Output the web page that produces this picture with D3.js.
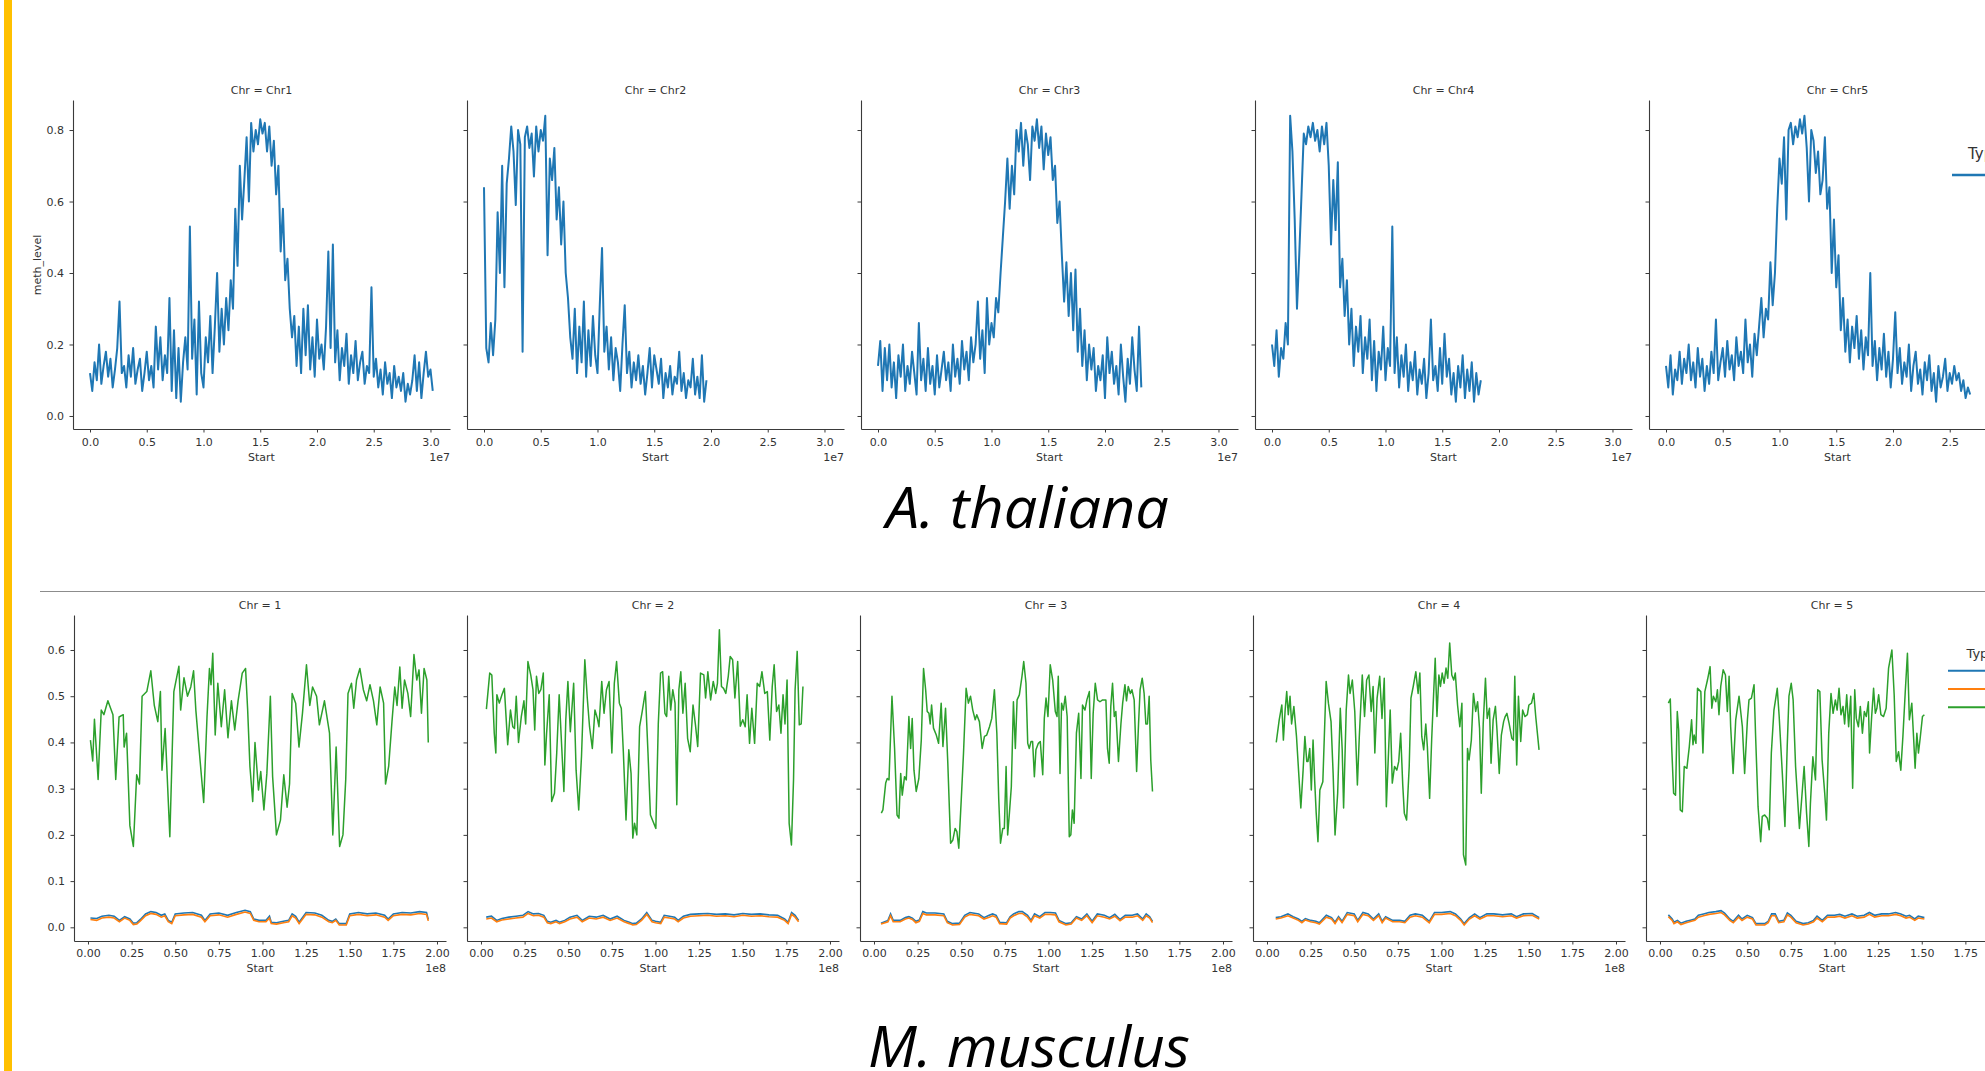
<!DOCTYPE html>
<html><head><meta charset="utf-8">
<script src="https://cdn.jsdelivr.net/npm/d3@7"></script>
<style>html,body{margin:0;padding:0;background:#fff;overflow:hidden}</style>
</head><body><svg id="c" width="1985" height="1071" xmlns="http://www.w3.org/2000/svg"></svg>
<script>
// ---------------- A. thaliana (bins of 200 kb starting at 0) ----------------
const thalStep = 200000;
const thalChrs = ["Chr1","Chr2","Chr3","Chr4","Chr5"];
const thalChr1 = [0.12,0.07,0.15,0.10,0.20,0.09,0.14,0.18,0.11,0.16,0.08,0.13,0.19,0.32,0.12,
0.14,0.08,0.17,0.11,0.19,0.09,0.13,0.16,0.07,0.12,0.18,0.10,0.14,
0.08,0.25,0.13,0.22,0.10,0.17,0.12,
0.33,0.07,0.24,0.05,0.19,0.04,0.15,0.22,0.13,0.53,0.16,0.27,0.06,0.32,0.12,0.08,0.22,0.15,0.28,0.12,0.25,0.40,0.18,0.30,0.20,0.33,0.24,0.38,0.30,0.58,0.42,0.70,0.55,0.66,0.78,0.60,0.82,0.74,0.80,0.76,0.83,0.79,0.82,0.74,0.81,0.70,0.77,0.62,0.70,0.46,0.58,0.38,0.44,0.30,0.22,0.28,0.14,0.25,0.12,0.30,0.17,0.31,0.13,0.22,0.11,0.27,0.16,0.20,0.13,0.25,0.46,0.19,0.48,0.15,0.24,0.10,0.19,0.14,0.23,0.09,0.17,0.12,0.21,0.10,0.15,0.18,0.09,0.14,0.12,0.36,0.11,0.16,0.08,0.13,0.06,0.15,0.09,0.12,0.05,0.14,0.08,0.11,0.07,0.12,0.04,0.09,0.06,0.10,0.17,0.07,0.15,0.05,0.12,0.18,0.11,0.13,0.07];
const thalChr2 = [0.64,0.19,0.15,0.26,0.17,0.27,0.57,0.40,0.70,0.36,0.65,0.72,0.81,0.74,0.59,0.80,0.76,0.18,0.78,0.81,0.75,0.79,0.67,0.81,0.74,0.80,0.77,0.84,0.45,0.72,0.66,0.75,0.55,0.64,0.48,0.60,0.40,0.33,0.22,0.16,0.30,0.12,0.25,0.15,0.32,0.11,0.24,0.14,0.28,0.17,0.12,0.31,0.47,0.18,0.25,0.13,0.22,0.10,0.19,0.15,0.07,0.20,0.31,0.12,0.18,0.08,0.15,0.10,0.17,0.09,0.14,0.06,0.12,0.19,0.08,0.17,0.13,0.09,0.16,0.05,0.12,0.08,0.14,0.06,0.11,0.09,0.18,0.07,0.12,0.05,0.10,0.08,0.16,0.06,0.11,0.05,0.17,0.04,0.10];
const thalChr3 = [0.14,0.21,0.07,0.19,0.10,0.20,0.08,0.15,0.05,0.17,0.11,0.20,0.07,0.14,0.09,0.18,0.12,0.06,0.26,0.10,0.16,0.07,0.19,0.09,0.14,0.06,0.17,0.08,0.13,0.18,0.10,0.15,0.07,0.20,0.11,0.16,0.09,0.21,0.13,0.18,0.10,0.22,0.15,0.20,0.32,0.16,0.24,0.12,0.33,0.20,0.26,0.22,0.33,0.29,0.40,0.50,0.60,0.72,0.58,0.70,0.62,0.80,0.74,0.82,0.70,0.80,0.76,0.66,0.81,0.77,0.83,0.75,0.81,0.69,0.79,0.73,0.78,0.66,0.70,0.54,0.60,0.45,0.32,0.43,0.28,0.40,0.24,0.41,0.18,0.30,0.14,0.24,0.10,0.20,0.13,0.19,0.07,0.14,0.10,0.17,0.05,0.22,0.12,0.18,0.09,0.14,0.06,0.20,0.11,0.04,0.16,0.09,0.22,0.13,0.07,0.25,0.08];
const thalChr4 = [0.20,0.14,0.24,0.11,0.19,0.16,0.26,0.20,0.84,0.74,0.55,0.30,0.45,0.62,0.79,0.76,0.81,0.78,0.82,0.77,0.80,0.74,0.81,0.76,0.82,0.70,0.48,0.66,0.52,0.71,0.36,0.44,0.28,0.38,0.20,0.30,0.14,0.25,0.18,0.28,0.12,0.22,0.16,0.27,0.10,0.21,0.07,0.18,0.13,0.25,0.10,0.19,0.14,0.53,0.12,0.22,0.08,0.17,0.11,0.20,0.07,0.15,0.10,0.18,0.06,0.13,0.09,0.16,0.05,0.12,0.27,0.10,0.14,0.07,0.19,0.09,0.23,0.11,0.16,0.06,0.12,0.04,0.14,0.08,0.17,0.05,0.13,0.07,0.15,0.04,0.12,0.06,0.10];
const thalChr5 = [0.14,0.08,0.17,0.06,0.13,0.10,0.18,0.09,0.16,0.12,0.20,0.10,0.15,0.08,0.19,0.11,0.16,0.07,0.14,0.09,0.18,0.12,0.27,0.10,0.15,0.19,0.11,0.21,0.13,0.17,0.10,0.22,0.14,0.18,0.12,0.27,0.15,0.20,0.11,0.23,0.17,0.25,0.33,0.22,0.30,0.27,0.43,0.31,0.40,0.58,0.72,0.65,0.78,0.55,0.80,0.82,0.76,0.81,0.78,0.83,0.79,0.84,0.75,0.60,0.80,0.77,0.68,0.74,0.62,0.66,0.78,0.58,0.64,0.40,0.55,0.36,0.45,0.24,0.33,0.18,0.27,0.15,0.25,0.19,0.28,0.16,0.24,0.13,0.22,0.17,0.40,0.14,0.21,0.10,0.19,0.13,0.23,0.11,0.18,0.08,0.16,0.29,0.12,0.19,0.09,0.15,0.11,0.20,0.07,0.14,0.18,0.09,0.13,0.06,0.15,0.10,0.17,0.07,0.12,0.04,0.14,0.08,0.11,0.16,0.07,0.12,0.09,0.14,0.10,0.12,0.07,0.10,0.05,0.08,0.06];
const thalValues = [thalChr1, thalChr2, thalChr3, thalChr4, thalChr5];
const thalXTicks = [0, 0.5e7, 1.0e7, 1.5e7, 2.0e7, 2.5e7, 3.0e7];
const thalYTicks = [0, 0.2, 0.4, 0.6, 0.8];

// ---------------- M. musculus (positions in Mb) ----------------
const musChrs = ["1","2","3","4","5"];
const musTypes = ["CHG","CHH","CG"];
// CG (green)
const musCGpos1 = [1.4,2.7,3.7,5.8,7.6,9.1,11.4,14.3,15.9,17.8,20.2,20.7,22.1,24,26,27.9,29.5,31,33.7,36,38,40,41.5,42.4,44.2,46.9,49.2,52.1,53.1,55,57,58.9,60.5,61.8,63.8,66.3,68.2,69.6,70.5,71.5,72.9,74.4,76.4,78.3,80.2,82.2,84.1,86,88.4,90.3,91.5,92.8,94.4,95.7,97.7,99,100.8,102.5,104.5,105.8,108,110.3,112.2,114.1,115.5,117,119,120.9,122.9,125.2,127.1,128.7,131,132.6,135.5,138.4,140.3,142.2,144.2,146.1,147.7,149,151,152.3,153.9,155.8,157.8,159.7,161.6,163.6,165.5,167.4,169.4,170.5,172.3,174.2,175.8,177.1,178.7,180,181.4,183.3,184.9,186.8,188.4,189.7,191.1,192.6,194.2,195];
const musCGval1 = [0.405,0.36,0.45,0.32,0.47,0.46,0.49,0.46,0.32,0.455,0.46,0.39,0.42,0.22,0.175,0.33,0.31,0.50,0.51,0.555,0.48,0.445,0.51,0.34,0.43,0.196,0.51,0.565,0.47,0.54,0.50,0.52,0.555,0.47,0.38,0.27,0.455,0.56,0.525,0.593,0.416,0.528,0.434,0.514,0.41,0.49,0.427,0.49,0.55,0.56,0.47,0.348,0.272,0.40,0.297,0.337,0.254,0.333,0.50,0.326,0.20,0.232,0.33,0.26,0.31,0.506,0.485,0.39,0.463,0.568,0.48,0.52,0.50,0.438,0.49,0.42,0.20,0.39,0.175,0.20,0.32,0.506,0.528,0.474,0.535,0.56,0.514,0.49,0.525,0.49,0.438,0.52,0.485,0.31,0.348,0.445,0.52,0.48,0.563,0.474,0.535,0.506,0.456,0.59,0.535,0.557,0.463,0.56,0.535,0.40];
const musCGpos2 = [3.1,5,6.2,7.6,8.5,9.1,10.5,12,13.4,15.3,16.9,18.2,19.2,20.2,21.5,23.1,24.6,25.6,26.9,28.5,29.8,30.8,31.8,33.1,34.3,35.7,36.6,37.6,39.1,40.5,42.1,43.4,44.8,46.3,47.5,48.6,49.8,51.2,53.1,54.5,56,57.6,59.5,60.9,62.2,63.8,65.3,66.7,67.6,69.2,70.5,71.9,73.4,75,76.4,77.7,79.3,80.4,81.6,83.1,84.7,86,87,88,89.3,90.9,92.4,94.2,95.7,97.1,98.6,100.2,101.6,102.9,104.1,105.4,106.4,107.6,108.7,109.9,111.2,112.2,113.4,114.5,115.7,117,118.4,119.9,121.5,122.9,124.2,125.8,127.7,128.7,130,131.6,133.1,134.5,135.5,136.6,137.8,139,140.3,141.7,142.8,144.2,145.5,147.1,148.6,150,151.4,152.5,153.9,155.2,156.8,158.3,159.7,161,162.6,164.1,165.5,166.9,168,169.4,170.7,171.9,173.1,174.2,175.4,176.6,177.9,179.1,180,181.2,182.4,183.5,184.5];
const musCGval2 = [0.472,0.55,0.546,0.42,0.377,0.503,0.485,0.503,0.517,0.395,0.47,0.434,0.43,0.50,0.40,0.456,0.49,0.44,0.575,0.546,0.514,0.427,0.543,0.506,0.514,0.55,0.351,0.42,0.503,0.272,0.29,0.377,0.503,0.387,0.294,0.449,0.532,0.423,0.528,0.34,0.254,0.37,0.579,0.496,0.434,0.387,0.47,0.452,0.434,0.532,0.463,0.514,0.532,0.377,0.528,0.575,0.485,0.474,0.377,0.232,0.384,0.333,0.193,0.225,0.20,0.434,0.467,0.51,0.377,0.243,0.229,0.214,0.44,0.55,0.553,0.463,0.456,0.543,0.47,0.514,0.485,0.265,0.514,0.553,0.463,0.528,0.409,0.38,0.481,0.438,0.391,0.55,0.546,0.496,0.553,0.492,0.532,0.506,0.528,0.644,0.521,0.517,0.506,0.543,0.586,0.579,0.496,0.575,0.435,0.449,0.434,0.503,0.398,0.474,0.398,0.528,0.521,0.553,0.506,0.51,0.405,0.521,0.568,0.467,0.481,0.42,0.503,0.44,0.535,0.225,0.178,0.319,0.514,0.597,0.438,0.44,0.521];
const musCGpos3 = [4.2,5.1,6.7,7.6,8.6,10.3,11.8,13.2,14.3,15.3,16.2,17.5,18.5,20,21,21.9,22.9,24.2,25.7,27.1,28.4,29.6,30.5,31.5,32.2,33,34.1,35.7,37,38.5,39.5,41,42.3,43.9,45.2,46.5,47.5,48.6,50,51.3,52.8,54.1,55.3,56.6,58,58.9,60.4,62,63.3,64.6,66.2,67.5,69,70.4,71.5,72.5,73.8,74.7,75.7,76.6,77.6,78.7,79.9,81,82,83.3,84.8,85.8,87.1,88.1,89,90,90.9,91.9,92.8,94.2,95.3,96.7,97.6,98.6,99.7,101,102.4,103.9,104.9,105.6,106.6,107.5,108.5,109.6,110.7,111.9,112.8,113.7,114.7,116,117.3,118.6,119.5,120.9,122,123.4,124.5,125.6,126.8,128.1,129.5,131,132.9,133.8,134.8,135.7,136.7,137.7,138.6,140.1,141.5,142.5,143.8,144.7,145.7,146.9,147.8,149.1,150.5,151.6,152.5,153.7,154.8,155.8,156.7,157.7,158.6,159.6];
const musCGval3 = [0.247,0.254,0.312,0.322,0.319,0.50,0.387,0.243,0.236,0.333,0.286,0.326,0.319,0.456,0.387,0.452,0.34,0.294,0.322,0.405,0.56,0.514,0.467,0.463,0.44,0.481,0.431,0.416,0.398,0.485,0.391,0.474,0.355,0.182,0.189,0.214,0.207,0.171,0.276,0.377,0.517,0.485,0.50,0.47,0.449,0.46,0.445,0.387,0.413,0.416,0.434,0.452,0.514,0.42,0.276,0.182,0.214,0.214,0.348,0.20,0.247,0.304,0.488,0.387,0.492,0.503,0.543,0.575,0.528,0.398,0.387,0.402,0.402,0.326,0.384,0.398,0.402,0.33,0.452,0.496,0.456,0.568,0.535,0.467,0.456,0.543,0.333,0.485,0.47,0.50,0.456,0.196,0.20,0.254,0.225,0.42,0.463,0.322,0.481,0.47,0.492,0.51,0.322,0.463,0.528,0.492,0.488,0.492,0.492,0.387,0.355,0.478,0.528,0.456,0.467,0.359,0.44,0.485,0.525,0.49,0.521,0.506,0.514,0.492,0.337,0.44,0.514,0.539,0.506,0.44,0.44,0.50,0.362,0.294];
const musCGpos4 = [5.3,7,8.5,9.4,10.4,11.3,12.2,13.2,14.1,15.4,16.9,18.3,19.4,20.7,21.7,22.8,23.5,24.5,25.4,26.4,27.3,28.2,29.2,30.3,32,33.9,35.2,36.7,37.9,39,40.5,42,43.1,43.9,45.4,46.7,47.6,48.9,50.3,51.8,52.9,54.6,55.9,57.1,58.4,59.7,60.8,61.8,63.1,64.6,65.9,67.2,68.4,69.7,70.6,71.8,73.1,74.4,75.5,76.6,77.8,78.7,80,81.5,82.5,83.8,85.3,86.6,87.6,88.7,89.8,91,91.9,93.2,94.4,95.5,96.4,97.4,98.5,99.4,100.4,101.5,102.6,103.6,104.7,105.9,107,107.9,109.2,110.5,111.7,112.6,113.9,114.9,115.8,117.1,118.3,119.6,120.7,121.8,122.8,123.9,125.2,126.2,127.5,128.4,129.6,130.9,131.8,133.1,134.3,135.6,136.5,137.5,138.8,140.3,141.2,142,143.1,144.1,145.4,146.5,147.8,149.2,150.1,151.6,152.9,154,155.9];
const musCGval4 = [0.40,0.449,0.481,0.405,0.47,0.51,0.46,0.50,0.44,0.478,0.413,0.326,0.258,0.34,0.413,0.359,0.359,0.387,0.297,0.405,0.319,0.247,0.185,0.297,0.315,0.532,0.485,0.445,0.333,0.20,0.29,0.474,0.384,0.258,0.47,0.546,0.506,0.535,0.467,0.308,0.413,0.546,0.456,0.535,0.546,0.467,0.521,0.377,0.496,0.543,0.452,0.539,0.261,0.384,0.47,0.312,0.348,0.34,0.359,0.42,0.308,0.247,0.232,0.348,0.496,0.521,0.553,0.506,0.55,0.413,0.384,0.44,0.391,0.279,0.409,0.506,0.582,0.456,0.546,0.521,0.55,0.528,0.561,0.539,0.615,0.546,0.535,0.55,0.481,0.434,0.485,0.157,0.135,0.387,0.362,0.405,0.506,0.467,0.488,0.431,0.29,0.44,0.539,0.452,0.474,0.355,0.449,0.478,0.427,0.333,0.416,0.445,0.456,0.463,0.44,0.409,0.405,0.543,0.351,0.50,0.402,0.47,0.456,0.46,0.481,0.485,0.506,0.456,0.384];
const musCGpos5 = [4.8,5.9,6.7,7.8,8.9,9.9,10.7,11.6,12.8,13.9,15.4,16.8,18.1,18.9,19.6,20.6,21.5,23.4,24.6,25.7,27.2,28.7,29.7,30.6,32,32.9,33.8,34.8,36.2,37.5,38.6,39.6,40.5,41.9,43.4,45.3,47.2,48.5,50.1,51,52.4,53.9,54.8,56.2,57.7,58.6,60,61.5,62.6,63.8,65.3,66.2,67.2,68.3,70.1,71.6,72.9,73.9,75.2,76.3,77.7,78.6,79.9,81.3,82.6,84,85.3,86.2,87.6,89.1,90.4,91.6,92.9,94.4,95.4,96.7,98,99.2,100.5,101.5,102.6,103.7,104.9,105.8,107,108.1,109.3,110.4,111.6,112.5,113.7,114.8,116,117.1,118.2,119.4,120.1,121.3,122.4,123.4,124.3,125.3,126.6,128.1,129.6,131,132.9,134.2,135.4,136.7,138,139.2,140.5,141.8,142.9,144.3,145.3,146.2,147.2,148.1,149.1,150.4,151.5];
const musCGval5 = [0.485,0.494,0.391,0.29,0.286,0.467,0.427,0.254,0.25,0.348,0.344,0.391,0.449,0.395,0.416,0.398,0.517,0.51,0.377,0.51,0.535,0.564,0.474,0.50,0.488,0.514,0.46,0.521,0.557,0.546,0.467,0.543,0.434,0.333,0.449,0.50,0.434,0.333,0.449,0.492,0.496,0.525,0.413,0.261,0.185,0.24,0.243,0.236,0.211,0.377,0.47,0.492,0.517,0.456,0.333,0.218,0.391,0.50,0.528,0.492,0.348,0.294,0.214,0.283,0.348,0.247,0.175,0.268,0.369,0.319,0.514,0.51,0.362,0.29,0.232,0.42,0.506,0.463,0.492,0.47,0.517,0.46,0.478,0.44,0.503,0.434,0.50,0.301,0.514,0.452,0.434,0.478,0.42,0.467,0.456,0.488,0.377,0.456,0.517,0.463,0.474,0.503,0.46,0.456,0.474,0.561,0.60,0.503,0.359,0.38,0.34,0.413,0.506,0.593,0.449,0.485,0.413,0.344,0.42,0.377,0.409,0.456,0.46];
// CHG (blue) and CHH (orange), sharing positions
const musLowPos1 = [1.4,5,8,12,15,18,21,24,26,28,30,33,36,39,42,44,46,48,50,55,60,65,67,70,75,80,85,90,93,95,98,102,104,105,108,112,115,117,119,121,125,130,134,138,140,142,144,148,150,155,160,165,170,172,175,180,185,190,194,195];
const musCHH1 = [0.017,0.015,0.020,0.022,0.020,0.012,0.020,0.015,0.006,0.007,0.014,0.025,0.030,0.028,0.022,0.025,0.012,0.008,0.025,0.027,0.028,0.022,0.012,0.025,0.027,0.022,0.028,0.033,0.030,0.015,0.012,0.012,0.020,0.008,0.007,0.010,0.012,0.025,0.020,0.008,0.028,0.027,0.022,0.012,0.010,0.015,0.005,0.005,0.025,0.028,0.025,0.027,0.022,0.015,0.025,0.028,0.027,0.030,0.028,0.014];
const musCHG1 = [0.020,0.019,0.024,0.026,0.024,0.015,0.023,0.018,0.009,0.010,0.017,0.029,0.034,0.032,0.026,0.029,0.015,0.011,0.029,0.031,0.032,0.026,0.015,0.029,0.031,0.026,0.032,0.037,0.034,0.018,0.015,0.015,0.024,0.011,0.010,0.013,0.015,0.029,0.024,0.011,0.032,0.031,0.026,0.015,0.013,0.018,0.008,0.008,0.029,0.032,0.029,0.031,0.026,0.018,0.029,0.032,0.031,0.034,0.032,0.017];
const musLowPos2 = [3,6,9,12,16,20,24,27,30,33,36,38,40,43,45,48,51,55,58,62,66,70,74,78,82,85,87,89,92,95,98,100,103,105,108,111,113,116,120,125,130,135,140,145,150,155,160,165,170,174,176,178,180,182];
const musCHH2 = [0.018,0.020,0.012,0.016,0.018,0.020,0.022,0.030,0.025,0.026,0.022,0.010,0.008,0.012,0.008,0.012,0.018,0.022,0.012,0.020,0.018,0.022,0.015,0.020,0.012,0.008,0.005,0.006,0.015,0.028,0.012,0.010,0.008,0.022,0.020,0.018,0.012,0.020,0.024,0.025,0.026,0.024,0.025,0.023,0.026,0.024,0.025,0.023,0.022,0.015,0.008,0.028,0.022,0.012];
const musCHG2 = [0.022,0.024,0.015,0.019,0.022,0.024,0.026,0.034,0.029,0.030,0.026,0.013,0.011,0.015,0.011,0.015,0.022,0.026,0.015,0.024,0.022,0.026,0.018,0.024,0.015,0.011,0.008,0.009,0.018,0.032,0.015,0.013,0.011,0.026,0.024,0.022,0.015,0.024,0.028,0.029,0.030,0.028,0.029,0.027,0.030,0.028,0.029,0.027,0.026,0.018,0.011,0.032,0.026,0.015];
const musLowPos3 = [4,8,9.5,11,15,18,20,22,24,26,28,30,35,40,42,45,49,52,55,60,63,66,68,70,72,76,78,80,83,85,88,90,92,95,98,101,104,106,110,113,116,119,122,125,128,132,135,138,141,144,148,151,154,156,158,159.6];
const musCHH3 = [0.007,0.012,0.025,0.012,0.012,0.018,0.020,0.017,0.010,0.013,0.030,0.027,0.027,0.025,0.010,0.005,0.006,0.022,0.028,0.025,0.018,0.022,0.025,0.022,0.008,0.007,0.020,0.025,0.030,0.030,0.022,0.012,0.025,0.020,0.028,0.028,0.027,0.012,0.005,0.007,0.020,0.015,0.025,0.010,0.025,0.022,0.018,0.024,0.014,0.022,0.022,0.025,0.015,0.025,0.020,0.010];
const musCHG3 = [0.009,0.015,0.029,0.015,0.015,0.021,0.023,0.020,0.013,0.016,0.034,0.031,0.031,0.029,0.013,0.008,0.009,0.026,0.032,0.029,0.021,0.026,0.029,0.026,0.011,0.010,0.023,0.029,0.034,0.034,0.026,0.015,0.029,0.023,0.032,0.032,0.031,0.015,0.008,0.010,0.023,0.018,0.029,0.013,0.029,0.026,0.021,0.028,0.017,0.026,0.026,0.029,0.018,0.029,0.023,0.013];
const musLowPos4 = [5,8,12,15,18,20,22,25,28,30,34,37,39,41,43,46,50,52,55,58,61,64,66,68,72,76,79,82,85,89,93,96,100,105,108,111,113,116,119,122,126,130,135,140,143,147,152,156];
const musCHH4 = [0.018,0.020,0.025,0.020,0.015,0.010,0.016,0.012,0.010,0.007,0.022,0.018,0.008,0.020,0.010,0.028,0.025,0.012,0.028,0.025,0.015,0.025,0.010,0.020,0.012,0.012,0.010,0.022,0.025,0.022,0.010,0.028,0.028,0.030,0.025,0.015,0.005,0.018,0.025,0.018,0.025,0.025,0.023,0.025,0.020,0.025,0.026,0.018];
const musCHG4 = [0.021,0.023,0.029,0.023,0.018,0.013,0.019,0.015,0.013,0.010,0.026,0.021,0.011,0.023,0.013,0.032,0.029,0.015,0.032,0.029,0.018,0.029,0.013,0.023,0.015,0.015,0.013,0.026,0.029,0.026,0.013,0.032,0.032,0.034,0.029,0.018,0.008,0.021,0.029,0.021,0.029,0.029,0.027,0.029,0.023,0.029,0.030,0.021];
const musLowPos5 = [4.8,7,8,10,12,15,18,20,22,25,28,32,35,37,40,42,45,47,50,53,55,60,62,64,66,68,71,73,75,78,82,85,88,90,93,96,100,103,106,110,113,117,120,123,127,131,135,138,141,143,146,148,151.5];
const musCHH5 = [0.023,0.015,0.008,0.012,0.006,0.010,0.013,0.015,0.022,0.025,0.028,0.030,0.032,0.027,0.015,0.010,0.022,0.015,0.022,0.018,0.005,0.005,0.010,0.025,0.025,0.010,0.012,0.027,0.022,0.010,0.005,0.007,0.012,0.020,0.012,0.022,0.022,0.024,0.020,0.025,0.020,0.022,0.028,0.022,0.025,0.025,0.028,0.025,0.020,0.022,0.015,0.020,0.018];
const musCHG5 = [0.027,0.018,0.011,0.015,0.009,0.013,0.016,0.018,0.026,0.029,0.032,0.034,0.036,0.031,0.018,0.013,0.026,0.018,0.026,0.021,0.008,0.008,0.013,0.029,0.029,0.013,0.015,0.031,0.026,0.013,0.008,0.010,0.015,0.024,0.015,0.026,0.026,0.028,0.024,0.029,0.024,0.026,0.032,0.026,0.029,0.029,0.032,0.029,0.024,0.026,0.018,0.024,0.021];
const musXTicks = [0, 0.25e8, 0.5e8, 0.75e8, 1.0e8, 1.25e8, 1.5e8, 1.75e8, 2.0e8];
const musYTicks = [0, 0.1, 0.2, 0.3, 0.4, 0.5, 0.6];

const musCG = [[musCGpos1,musCGval1],[musCGpos2,musCGval2],[musCGpos3,musCGval3],[musCGpos4,musCGval4],[musCGpos5,musCGval5]];
const musLow = [[musLowPos1,musCHG1,musCHH1],[musLowPos2,musCHG2,musCHH2],[musLowPos3,musCHG3,musCHH3],[musLowPos4,musCHG4,musCHH4],[musLowPos5,musCHG5,musCHH5]];

// ---------------- drawing ----------------
const PAGE_W = 1985;
const C_BLUE = "#1f77b4", C_ORANGE = "#ff7f0e", C_GREEN = "#2ca02c";
const TXT = "#333", SPINE = "#3a3a3a";
const FONT = "'DejaVu Sans', sans-serif";
const svg = d3.select("#c");
svg.append("rect").attr("width",PAGE_W).attr("height",1071).attr("fill","#fff");

function styleAxis(g){
  g.select(".domain").attr("stroke", SPINE).attr("stroke-width", 1.1);
  g.selectAll(".tick line").attr("stroke", SPINE).attr("stroke-width", 1);
  g.selectAll(".tick text").attr("fill", TXT).attr("font-size", 11).attr("font-family", FONT);
}
// only label ticks that fall on the page (the rest lie beyond the slide's edge)
function onPage(left, x){ return t => left + x(t) + 12 < PAGE_W; }

// --- top facet grid ---
const tW = 377, tTop = 100, tBot = 429;
const tY = d3.scaleLinear().domain([-0.0364, 0.884]).range([tBot, tTop]);
thalChrs.forEach((chr, i) => {
  const left = 73 + 394 * i;
  const x = d3.scaleLinear().domain([-0.1498e7, 3.172e7]).range([0, tW]);
  const g = svg.append("g").attr("transform", `translate(${left},0)`);
  const xa = g.append("g").attr("transform", `translate(0,${tBot})`)
    .call(d3.axisBottom(x).tickValues(thalXTicks.filter(onPage(left, x))).tickFormat(d => (d/1e7).toFixed(1)).tickSize(3.5).tickSizeOuter(0).tickPadding(5.5));
  styleAxis(xa);
  const ya = g.append("g")
    .call(d3.axisLeft(tY).tickValues(thalYTicks).tickFormat(i === 0 ? d3.format(".1f") : () => "").tickSize(3.5).tickSizeOuter(0).tickPadding(5.5));
  styleAxis(ya);
  const line = d3.line().x(d => x(d[0])).y(d => tY(d[1]));
  const data = thalValues[i].map((v, k) => [k * thalStep, v]);
  g.append("path").datum(data).attr("d", line).attr("fill", "none")
    .attr("stroke", C_BLUE).attr("stroke-width", 2).attr("stroke-linejoin", "round");
  g.append("text").attr("x", tW/2).attr("y", 94).attr("text-anchor","middle")
    .attr("font-size", 11).attr("font-family", FONT).attr("fill", TXT).text("Chr = " + chr);
  g.append("text").attr("x", tW/2).attr("y", 461).attr("text-anchor","middle")
    .attr("font-size", 11).attr("font-family", FONT).attr("fill", TXT).text("Start");
  if (left + tW < PAGE_W)
    g.append("text").attr("x", tW).attr("y", 461).attr("text-anchor","end")
      .attr("font-size", 11).attr("font-family", FONT).attr("fill", TXT).text("1e7");
});
svg.append("text").attr("transform","translate(37,265) rotate(-90)").attr("dy","0.35em")
  .attr("text-anchor","middle").attr("font-size",11).attr("font-family",FONT).attr("fill",TXT).text("meth_level");
// top legend (cut by the page edge, as in the slide)
svg.append("text").attr("x",1968).attr("y",158.5).attr("font-size",15).attr("font-family",FONT).attr("fill",TXT).text("Type");
svg.append("line").attr("x1",1952).attr("x2",1995).attr("y1",175).attr("y2",175).attr("stroke",C_BLUE).attr("stroke-width",2.4);

// --- title A. thaliana ---
svg.append("text").attr("x",886).attr("y",528).attr("font-family","'Open Sans', sans-serif")
  .attr("font-style","italic").attr("font-size",57).attr("fill","#000")
  .attr("textLength",283).attr("lengthAdjust","spacingAndGlyphs").text("A. thaliana");

// --- separator line (edge of second figure) ---
svg.append("line").attr("x1",40).attr("x2",PAGE_W).attr("y1",591.5).attr("y2",591.5).attr("stroke","#8c8c8c").attr("stroke-width",1.2);

// --- bottom facet grid ---
const bW = 372, bTop = 615, bBot = 941;
const bY = d3.scaleLinear().domain([-0.0296, 0.6757]).range([bBot, bTop]);
musChrs.forEach((chr, i) => {
  const left = 74 + 393 * i;
  const x = d3.scaleLinear().domain([-0.0802e8, 2.0516e8]).range([0, bW]);
  const g = svg.append("g").attr("transform", `translate(${left},0)`);
  const xa = g.append("g").attr("transform", `translate(0,${bBot})`)
    .call(d3.axisBottom(x).tickValues(musXTicks.filter(onPage(left, x))).tickFormat(d => (d/1e8).toFixed(2)).tickSize(3.5).tickSizeOuter(0).tickPadding(4.7));
  styleAxis(xa);
  const ya = g.append("g")
    .call(d3.axisLeft(bY).tickValues(musYTicks).tickFormat(i === 0 ? d3.format(".1f") : () => "").tickSize(3.5).tickSizeOuter(0).tickPadding(5.5));
  styleAxis(ya);
  const line = d3.line().x(d => x(d[0] * 1e6)).y(d => bY(d[1]));
  const [lp, chg, chh] = musLow[i];
  g.append("path").datum(d3.zip(lp, chg)).attr("d", line).attr("fill","none").attr("stroke",C_BLUE).attr("stroke-width",1.6);
  g.append("path").datum(d3.zip(lp, chh)).attr("d", line).attr("fill","none").attr("stroke",C_ORANGE).attr("stroke-width",1.6);
  const [gp, gv] = musCG[i];
  g.append("path").datum(d3.zip(gp, gv)).attr("d", line).attr("fill","none").attr("stroke",C_GREEN).attr("stroke-width",1.5).attr("stroke-linejoin","round");
  g.append("text").attr("x", bW/2).attr("y", 609).attr("text-anchor","middle")
    .attr("font-size", 11).attr("font-family", FONT).attr("fill", TXT).text("Chr = " + chr);
  g.append("text").attr("x", bW/2).attr("y", 972).attr("text-anchor","middle")
    .attr("font-size", 11).attr("font-family", FONT).attr("fill", TXT).text("Start");
  if (left + bW < PAGE_W)
    g.append("text").attr("x", bW).attr("y", 972).attr("text-anchor","end")
      .attr("font-size", 11).attr("font-family", FONT).attr("fill", TXT).text("1e8");
});
// y label of the second figure, cut by the figure's left edge
svg.append("clipPath").attr("id","cutL").append("rect").attr("x",40).attr("y",592).attr("width",100).attr("height",400);
svg.append("text").attr("clip-path","url(#cutL)").attr("transform","translate(37,778) rotate(-90)").attr("dy","0.35em")
  .attr("text-anchor","middle").attr("font-size",11).attr("font-family",FONT).attr("fill",TXT).text("meth_level");
// bottom legend (cut by the page edge, as in the slide)
svg.append("text").attr("x",1966.5).attr("y",657.5).attr("font-size",13).attr("font-family",FONT).attr("fill",TXT).text("Type");
[[670.7,C_BLUE],[689,C_ORANGE],[707.3,C_GREEN]].forEach(([yy,c]) => {
  svg.append("line").attr("x1",1948).attr("x2",1995).attr("y1",yy).attr("y2",yy).attr("stroke",c).attr("stroke-width",2);
});

// --- title M. musculus ---
svg.append("text").attr("x",868).attr("y",1067).attr("font-family","'Open Sans', sans-serif")
  .attr("font-style","italic").attr("font-size",57).attr("fill","#000")
  .attr("textLength",322).attr("lengthAdjust","spacingAndGlyphs").text("M. musculus");

// yellow accent bar
svg.append("rect").attr("x",4).attr("y",0).attr("width",8).attr("height",1071).attr("fill","#FFC000");
</script>
</body></html>
